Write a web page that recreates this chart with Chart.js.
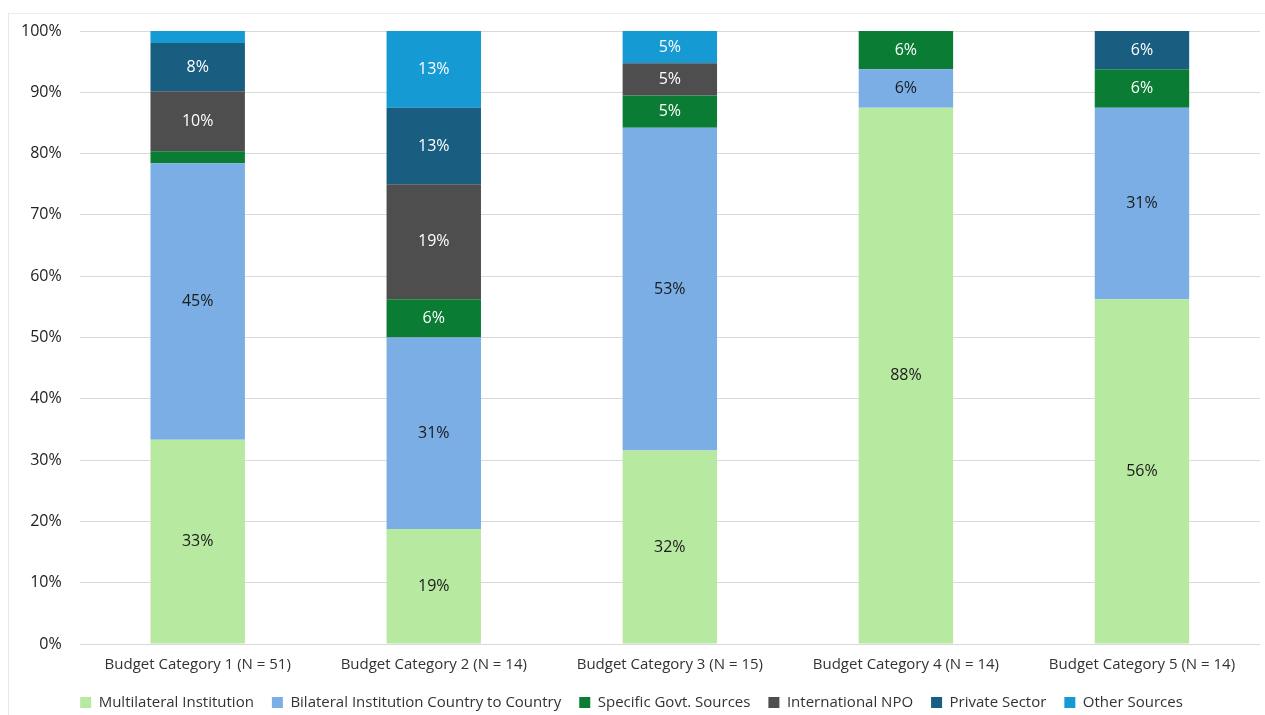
<!DOCTYPE html>
<html>
<head>
<meta charset="utf-8">
<script src="https://cdn.jsdelivr.net/npm/chart.js@4"></script>
<style>
  html, body { margin: 0; padding: 0; background: #fff; }
  #frame {
    position: absolute; left: 8px; top: 13px; width: 1257px; height: 702px;
    border-left: 1px solid #e8e8e8; border-top: 1px solid #eeeeee;
  }
  #wrap { position: absolute; left: 0; top: 0; width: 1265px; height: 715px; }
</style>
</head>
<body>
<div id="frame"></div>
<div id="wrap"><canvas id="budgetChart"></canvas></div>
<script>
// Categories and funding shares (%) per source
const categories = [
  "Budget Category 1 (N = 51)",
  "Budget Category 2 (N = 14)",
  "Budget Category 3 (N = 15)",
  "Budget Category 4 (N = 14)",
  "Budget Category 5 (N = 14)",
];
const multilateral = [33.33, 18.75, 31.58, 87.5, 56.25];
const bilateral = [45.1, 31.25, 52.63, 6.25, 31.25];
const govtSources = [1.96, 6.25, 5.26, 6.25, 6.25];
const intlNpo = [9.8, 18.75, 5.26, 0, 0];
const privateSector = [7.84, 12.5, 0, 0, 6.25];
const otherSources = [1.96, 12.5, 5.26, 0, 0];
const yTicks = [0, 10, 20, 30, 40, 50, 60, 70, 80, 90, 100];

const FONT = "'Open Sans', 'Noto Sans', sans-serif";

function makeSet(label, data, color, textColor) {
  return {
    label: label,
    data: data,
    backgroundColor: color,
    borderWidth: 0,
    categoryPercentage: 1,
    barPercentage: 0.4,
    textColor: textColor,
  };
}

// Draw rounded percentages in the middle of each segment
const segmentLabels = {
  id: "segmentLabels",
  afterDatasetsDraw(chart) {
    const ctx = chart.ctx;
    ctx.save();
    ctx.font = "16px " + FONT;
    ctx.textAlign = "center";
    ctx.textBaseline = "middle";
    chart.data.datasets.forEach(function (ds, i) {
      const meta = chart.getDatasetMeta(i);
      meta.data.forEach(function (bar, j) {
        const v = ds.data[j];
        if (v < 4) return;
        ctx.fillStyle = ds.textColor;
        ctx.fillText(Math.round(v) + "%", bar.x, (bar.y + bar.base) / 2);
      });
    });
    ctx.restore();
  },
};

const ctx = document.getElementById("budgetChart").getContext("2d");

const budgetChart = new Chart(ctx, {
  type: "bar",
  data: {
    labels: categories,
    datasets: [
      makeSet("Multilateral Institution", multilateral, "#b8e9a1", "#1a1a1a"),
      makeSet("Bilateral Institution Country to Country", bilateral, "#7aaee5", "#1a1a1a"),
      makeSet("Specific Govt. Sources", govtSources, "#0b7c34", "#ffffff"),
      makeSet("International NPO", intlNpo, "#4e4e4e", "#ffffff"),
      makeSet("Private Sector", privateSector, "#195e80", "#ffffff"),
      makeSet("Other Sources", otherSources, "#169ad3", "#ffffff"),
    ],
  },
  options: {
    responsive: true,
    maintainAspectRatio: false,
    animation: false,
    layout: { padding: { left: 3, right: 5, top: 31, bottom: -5 } },
    plugins: {
      legend: {
        position: "bottom",
        labels: {
          boxWidth: 11,
          boxHeight: 11,
          padding: 18,
          color: "#333",
          font: { family: FONT, size: 15 },
        },
      },
      tooltip: { enabled: false },
    },
    scales: {
      x: {
        stacked: true,
        grid: { display: false },
        border: { display: false },
        ticks: { color: "#333", font: { family: FONT, size: 15, lineHeight: 1 }, padding: 5 },
      },
      y: {
        stacked: true,
        min: 0,
        max: 100,
        afterBuildTicks: function (axis) {
          axis.ticks = yTicks.map(function (v) { return { value: v }; });
        },
        grid: { color: "#d9d9d9", drawTicks: false },
        border: { display: false },
        ticks: {
          color: "#222",
          padding: 18,
          font: { family: FONT, size: 16 },
          callback: function (v) { return v + "%"; },
        },
      },
    },
  },
  plugins: [segmentLabels],
});
</script>
</body>
</html>
